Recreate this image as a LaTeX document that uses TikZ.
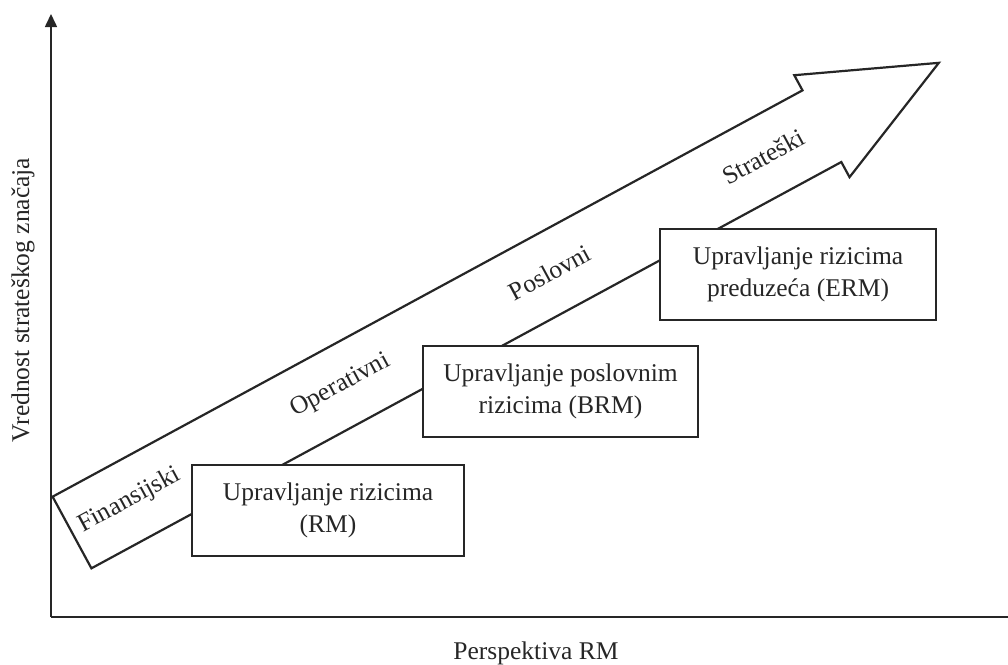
\documentclass[tikz,border=0pt]{standalone}
\usepackage{fontspec}
\setmainfont{Liberation Serif}
\usetikzlibrary{arrows.meta}
\begin{document}
\begin{tikzpicture}[x=1pt,y=-1pt,
  axisline/.style={line width=1.6pt,black!85},
  outline/.style={line width=2.2pt,black!85,line join=miter},
  stagelabel/.style={font=\fontsize{25.5}{32}\selectfont,text=black!85,inner sep=0pt,rotate=28.45},
  riskbox/.style={draw=black!85,line width=2.2pt,fill=white,align=center,
    minimum height=91pt,inner sep=0pt,font=\fontsize{25.5}{32}\selectfont,text=black!85},
  axislabel/.style={font=\fontsize{25.5}{32}\selectfont,text=black!85,inner sep=0pt}]
\useasboundingbox (0,0) rectangle (1008,664);

% axes
\coordinate (origin) at (51,617);
\coordinate (ytop) at (51,14);
\coordinate (xend) at (1008,617);
\draw[axisline,-{Triangle[length=13pt,width=12pt]}] (origin) -- (ytop);
\draw[axisline] (origin) -- (xend);

% broad arrow along the diagonal, drawn in its own frame
\begin{scope}[shift={(72,532.5)},rotate=28.45]
  \coordinate (basetop) at (0,-40.75);
  \coordinate (basebot) at (0,40.75);
  \coordinate (shafttop) at (853,-40.75);
  \coordinate (headtop) at (853,-58);
  \coordinate (tip) at (986,0);
  \coordinate (headbot) at (853,58);
  \coordinate (shaftbot) at (853,40.75);
  \draw[outline,fill=white] (basetop) -- (shafttop) -- (headtop) -- (tip)
    -- (headbot) -- (shaftbot) -- (basebot) -- cycle;
  \node[stagelabel] (fin) at (66,-1) {Finansijski};
  \node[stagelabel] (ops) at (306,-1) {Operativni};
  \node[stagelabel] (pos) at (544,-1) {Poslovni};
  \node[stagelabel] (str) at (787,-1) {Strateški};
\end{scope}

% the three stages of risk management
\node[riskbox,minimum width=272pt] (rm) at (328,510.5)
  {Upravljanje rizicima\\(RM)};
\node[riskbox,minimum width=275pt] (brm) at (560.5,391.5)
  {Upravljanje poslovnim\\rizicima (BRM)};
\node[riskbox,minimum width=276pt] (erm) at (798,274.5)
  {Upravljanje rizicima\\preduzeća (ERM)};

% axis titles
\node[axislabel,anchor=base] (xlab) at (536,659) {Perspektiva RM};
\node[axislabel,rotate=90] (ylab) at (23,300) {Vrednost strateškog značaja};
\end{tikzpicture}
\end{document}
